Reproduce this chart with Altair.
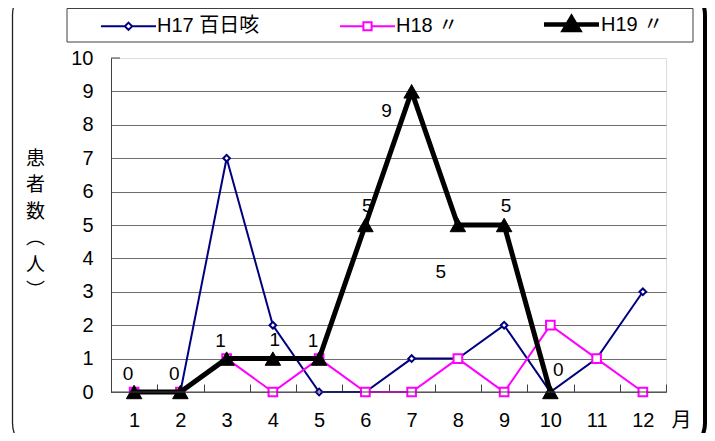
import altair as alt
import pandas as pd

# ---------------- data ----------------
months = list(range(1, 13))
series_names = ["H17 百日咳", "H18 〃", "H19 〃"]
h17 = [0, 0, 7, 2, 0, 0, 1, 1, 2, 0, 1, 3]
h18 = [0, 0, 1, 0, 1, 0, 0, 1, 0, 2, 1, 0]
h19 = [0, 0, 1, 1, 1, 5, 9, 5, 5, 0, None, None]
y_tick_values = list(range(0, 11))
y_title_chars = ["患", "者", "数", "︵", "人", "︶"]
x_title = "月"

FONT = "Liberation Sans, Noto Sans CJK JP, sans-serif"
AX = "#404040"
GRID = "#6e6e6e"
NAVY = "#000080"
MAGENTA = "#FF00FF"
BLACK = "#000000"

rows = []
for name, vals in zip(series_names, [h17, h18, h19]):
    for m, v in zip(months, vals):
        rows.append({"month": m, "series": name, "value": v})
df = pd.DataFrame(rows)

W, H = 555, 334

x_enc = alt.X(
    "month:O",
    scale=alt.Scale(type="band", domain=months, paddingInner=0, paddingOuter=0),
    axis=alt.Axis(
        title=x_title, titleAngle=0, titleX=570, titleY=42, titleAlign="center",
        titleBaseline="alphabetic", titleFontSize=20, titleFontWeight="normal",
        titleFont=FONT, titleColor="black",
        labelAngle=0, labelFontSize=20, labelFont=FONT, labelColor="black",
        labelPadding=18, domain=False, ticks=True, tickSize=8, tickBand="extent",
        tickColor=AX, tickWidth=1, offset=-8, grid=False,
    ),
)
y_enc = alt.Y(
    "value:Q",
    scale=alt.Scale(domain=[0, 10], nice=False, zero=True),
    axis=alt.Axis(
        values=y_tick_values, title=y_title_chars, titleAngle=0, titleX=-76, titleY=91,
        titleAlign="center", titleBaseline="top", titleLineHeight=26.5,
        titleFontSize=19, titleFontWeight="normal", titleFont=FONT, titleColor="black",
        labelFontSize=20, labelFont=FONT, labelColor="black", labelPadding=18,
        ticks=False, domain=True, domainColor=AX, domainWidth=1,
        grid=True,
        gridColor=alt.condition("datum.value >= 10", alt.value("transparent"), alt.value(GRID)),
        gridWidth=1,
    ),
)

base = alt.Chart(df)
one = alt.Chart(pd.DataFrame({"k": [0]}))


def series(name):
    return base.transform_filter(alt.datum.series == name)


# decorative frame (chart area border) and legend box
frame_thin = one.mark_rect(fill="transparent", stroke="#222222", strokeWidth=1.3, cornerRadius=30).encode(
    x=alt.value(-98.5), x2=alt.value(594), y=alt.value(-73), y2=alt.value(395)
)
frame_thick = one.mark_rect(fill="transparent", stroke="#000000", strokeWidth=4, cornerRadius=30).encode(
    x=alt.value(-400), x2=alt.value(594), y=alt.value(-73), y2=alt.value(395)
)
legend_box = one.mark_rect(fill="white", stroke="#404040", strokeWidth=1).encode(
    x=alt.value(-44), x2=alt.value(582), y=alt.value(-49.5), y2=alt.value(-16)
)

h17_line = series(series_names[0]).mark_line(color=NAVY, strokeWidth=2).encode(x=x_enc, y=y_enc)
h17_pts = series(series_names[0]).mark_point(
    shape="diamond", size=45, filled=True, fill="white", stroke=NAVY, strokeWidth=2, opacity=1
).encode(x=x_enc, y=y_enc)
h18_line = series(series_names[1]).mark_line(color=MAGENTA, strokeWidth=2).encode(x=x_enc, y=y_enc)
h18_pts = series(series_names[1]).mark_point(
    shape="square", size=75, filled=True, fill="white", stroke=MAGENTA, strokeWidth=2, opacity=1
).encode(x=x_enc, y=y_enc)
h19_line = series(series_names[2]).mark_line(color=BLACK, strokeWidth=5).encode(x=x_enc, y=y_enc)
h19_pts = series(series_names[2]).mark_point(
    shape="triangle-up", size=240, filled=True, fill=BLACK, stroke=BLACK, strokeWidth=1, opacity=1
).encode(x=x_enc, y=y_enc)

tick10 = alt.Chart(pd.DataFrame({"value": [10]})).mark_rule(color=AX, strokeWidth=1).encode(
    y=y_enc, x=alt.value(0), x2=alt.value(9)
)
baseline = alt.Chart(pd.DataFrame({"value": [0]})).mark_rule(color=AX, strokeWidth=1).encode(y=y_enc)


def label_layer(ms, dx, dy):
    return (
        series(series_names[2])
        .transform_filter(alt.FieldOneOfPredicate(field="month", oneOf=ms))
        .mark_text(dx=dx, dy=dy, fontSize=19, font=FONT, color="black")
        .encode(x=x_enc, y=y_enc, text="value:Q")
    )


labels = [
    label_layer([1, 2, 3, 5], -6, -18),
    label_layer([4, 6, 9], 2, -19),
    label_layer([10], 8, -22),
    label_layer([7], -25, 20),
    label_layer([8], -17, 47),
]

# legend (drawn by the library from the series scale)
p17 = "M-3,0H-0.4M0.4,0H3M0,-0.4L0.4,0L0,0.4L-0.4,0Z"
p18 = "M-3,0H-0.45M0.45,0H3M-0.45,-0.45H0.45V0.45H-0.45Z"
p19 = "M-3,0H3M0,-0.75L0.8,0.6L-0.8,0.6Z"
legend_def = alt.Legend(
    title=None, orient="none", legendX=7, legendY=-45, direction="horizontal",
    symbolSize=336, labelFontSize=20, labelFont=FONT, labelColor="black",
    labelOffset=18, columnPadding=76, padding=0, symbolOpacity=1, labelLimit=300,
)
legend_layer = base.transform_filter("false").mark_point(opacity=1, size=336, filled=True).encode(
    x=x_enc,
    y=y_enc,
    shape=alt.Shape("series:N", scale=alt.Scale(domain=series_names, range=[p17, p18, p19]), legend=legend_def),
    stroke=alt.Stroke("series:N", scale=alt.Scale(domain=series_names, range=[NAVY, MAGENTA, BLACK]), legend=legend_def),
    fill=alt.Fill("series:N", scale=alt.Scale(domain=series_names, range=["white", "white", BLACK]), legend=legend_def),
    strokeWidth=alt.StrokeWidth(
        "series:N", scale=alt.Scale(type="ordinal", domain=series_names, range=[2, 2, 4.5]), legend=legend_def
    ),
)

chart = (
    alt.layer(
        frame_thin, frame_thick, legend_box,
        h17_line, h17_pts, h18_line, h18_pts, h19_line, h19_pts,
        tick10, baseline, *labels, legend_layer,
    )
    .properties(
        width=W, height=H,
        padding={"left": 103, "top": 50, "right": 41, "bottom": 41},
        autosize=alt.AutoSizeParams(type="none"),
        background="white",
    )
    .configure_view(stroke="transparent")
    .configure(font=FONT)
)

chart.save("out.html", embed_options={"renderer": "svg", "actions": False})
